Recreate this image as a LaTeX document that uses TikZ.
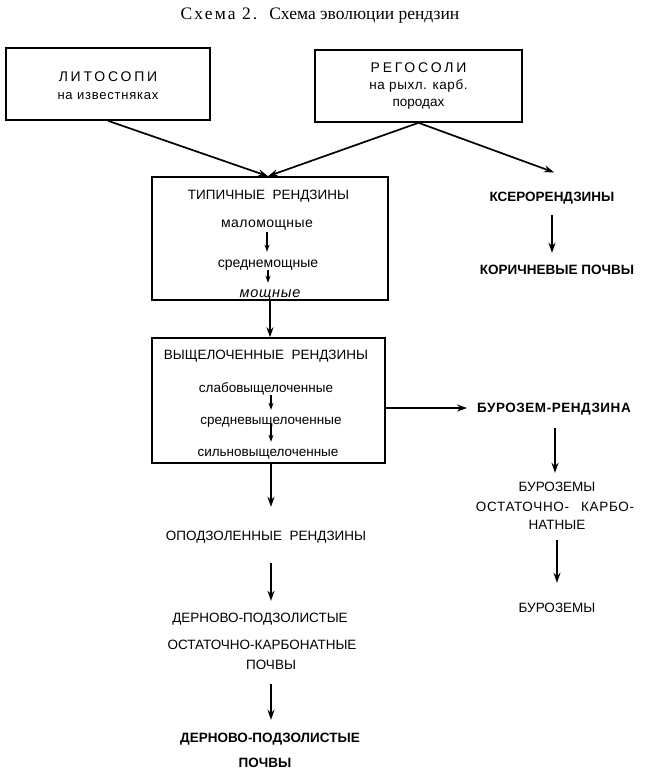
\documentclass[tikz,border=0pt]{standalone}
\usepackage{fontspec}
\setmainfont{Liberation Sans}
\newfontfamily\titlefont{Liberation Serif}
\usetikzlibrary{arrows.meta}
\begin{document}
\begin{tikzpicture}[x=1pt,y=-1pt,
  boxnode/.style={draw,line width=1.6pt,inner sep=0pt},
  lab/.style={inner sep=0pt,text height=9pt,text depth=0pt,font=\fontsize{13.5}{19}\selectfont},
  labb/.style={lab,font=\fontsize{13.5}{19}\selectfont\bfseries},
  sm/.style={inner sep=0pt,text height=8pt,text depth=0pt,font=\fontsize{13.5}{18}\selectfont},
  arr/.style={line width=1.7pt,-{Stealth[length=10pt,width=7pt]}},
  arrs/.style={line width=1.4pt,-{Stealth[length=7pt,width=5pt]}}
]
\useasboundingbox (0,0) rectangle (648,772);
% title
\node[inner sep=0pt,font=\titlefont\fontsize{17.5}{19}\selectfont] (title) at (320,16)
  {{\addfontfeature{LetterSpace=12}Схема 2.}\hspace{12pt}Схема эволюции рендзин};
% top boxes
\node[boxnode,minimum width=204pt,minimum height=72pt,align=center,
  font=\fontsize{13}{18}\selectfont] (lit) at (108,84)
  {\rule{0pt}{13pt}{\fontsize{14}{18}\selectfont\addfontfeature{LetterSpace=20}ЛИТОСОПИ}\\
   {\addfontfeature{LetterSpace=6}на известняках}};
\node[boxnode,minimum width=207pt,minimum height=72pt,align=center,
  font=\fontsize{13.5}{17}\selectfont] (reg) at (418.5,86)
  {{\fontsize{14}{17}\selectfont\addfontfeature{LetterSpace=20}РЕГОСОЛИ}\\
   {\addfontfeature{LetterSpace=4}на рыхл. карб.}\\ породах};
% typical rendzinas box
\node[boxnode,minimum width=236pt,minimum height=123pt] (typ) at (270,238.5) {};
\node[lab] (typT) at (268.5,195) {ТИПИЧНЫЕ\ \ РЕНДЗИНЫ};
\node[sm,font=\fontsize{14}{18}\selectfont\addfontfeature{LetterSpace=3}] (mal) at (267,223) {маломощные};
\node[sm,font=\fontsize{14}{18}\selectfont] (sred) at (268,263) {среднемощные};
\node[sm,font=\fontsize{14.5}{18}\selectfont\itshape\addfontfeature{LetterSpace=5}] (mosh) at (270,293) {мощные};
% leached box
\node[boxnode,minimum width=233pt,minimum height=125pt] (lea) at (268.5,400.5) {};
\node[lab] (leaT) at (266,355) {ВЫЩЕЛОЧЕННЫЕ\ \ РЕНДЗИНЫ};
\node[sm] (slab) at (266,388) {слабовыщелоченные};
\node[sm] (sredv) at (271,420) {средневыщелоченные};
\node[sm] (sil) at (268,452) {сильновыщелоченные};
% right column
\node[labb] (xero) at (552,197) {КСЕРОРЕНДЗИНЫ};
\node[labb] (kor) at (557,270) {КОРИЧНЕВЫЕ ПОЧВЫ};
\node[labb,anchor=west] (burr) at (477,408) {{\addfontfeature{LetterSpace=4}БУРОЗЕМ-РЕНДЗИНА}};
\node[lab] (bo1) at (557,487) {БУРОЗЕМЫ};
\node[lab,font=\fontsize{13.5}{19}\selectfont\addfontfeature{LetterSpace=5}] (bo2) at (555,507) {ОСТАТОЧНО-\hspace{12pt}КАРБО-};
\node[lab] (bo3) at (557,525) {НАТНЫЕ};
\node[lab] (buroz) at (557,608) {БУРОЗЕМЫ};
% left column
\node[lab] (opod) at (266,536) {ОПОДЗОЛЕННЫЕ\ \ РЕНДЗИНЫ};
\node[lab] (dern1) at (260,618) {ДЕРНОВО-ПОДЗОЛИСТЫЕ};
\node[lab] (dern2) at (262,645) {ОСТАТОЧНО-КАРБОНАТНЫЕ};
\node[lab] (dern3) at (271,665) {ПОЧВЫ};
\node[labb] (dp1) at (270,738) {ДЕРНОВО-ПОДЗОЛИСТЫЕ};
\node[labb] (dp2) at (265,763) {ПОЧВЫ};
% arrows
\draw[arr] (lit.south) -- ([xshift=-2pt]typ.north);
\draw[arr] (reg.south) -- ([xshift=-2pt]typ.north);
\draw[arr] (reg.south) -- ([xshift=2pt,yshift=20pt]xero.north);
\draw[arr,shorten <=13.5pt,shorten >=12.5pt] (xero.south) -- (xero.south |- kor.north);
\draw[arrs,shorten <=5pt,shorten >=7pt] (mal.south) -- (mal.south |- sred.north);
\draw[arrs,shorten <=3pt,shorten >=6pt] (sred.south) -- (sred.south |- mosh.north);
\draw[arr] (typ.south) -- (typ.south |- lea.north);
\draw[arrs,shorten <=3pt,shorten >=6pt] (slab.south -| sredv.south) -- (sredv.north);
\draw[arrs,shorten >=6pt] (sredv.south) -- (sredv.south |- sil.north);
\draw[arr,shorten >=10pt] (lea.east |- burr.west) -- (burr.west);
\draw[arr,shorten <=15.5pt,shorten >=9.5pt] (burr.south -| bo2.north) -- (bo1.north -| bo2.north);
\draw[arr,shorten <=10.5pt,shorten >=20.5pt] (bo3.south) -- (buroz.north);
\draw[arr,shorten >=24.5pt] (dern3.north |- lea.south) -- (dern3.north |- opod.north);
\draw[arr,shorten <=22.5pt,shorten >=12.5pt] (dern3.north |- opod.south) -- (dern3.north |- dern1.north);
\draw[arr,shorten <=14.5pt,shorten >=13.5pt] (dern3.south) -- (dern3.south |- dp1.north);
\end{tikzpicture}
\end{document}
